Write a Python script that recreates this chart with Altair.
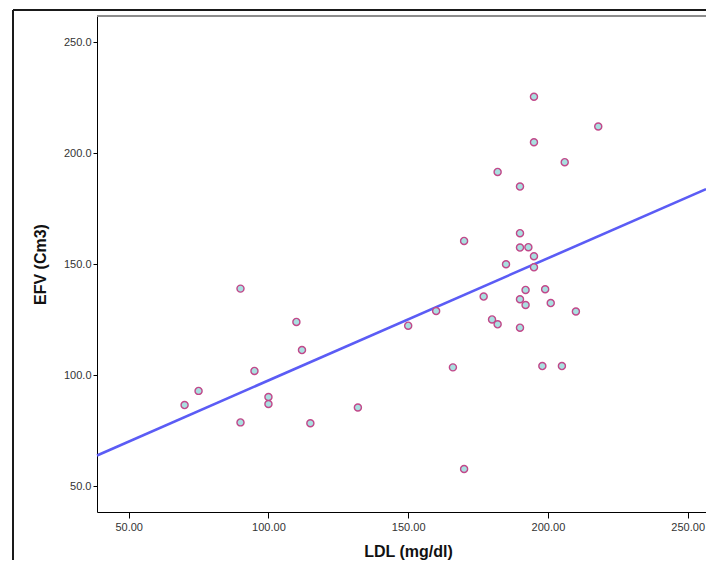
import altair as alt
import pandas as pd

# Data
ldl = [195, 218, 195, 206, 182, 190, 190, 170, 190, 193,
       195, 195, 185, 192, 199, 177, 190, 192, 201, 210,
       160, 180, 182, 150, 190, 110, 112, 90, 95, 75,
       70, 100, 100, 90, 115, 132, 166, 198, 205, 170]
efv = [225.5, 212.1, 205.0, 196.0, 191.6, 185.0, 164.0, 160.5, 157.5, 157.7,
       153.6, 148.6, 150.0, 138.4, 138.7, 135.4, 134.2, 131.6, 132.5, 128.7,
       128.9, 125.1, 122.9, 122.3, 121.4, 124.0, 111.3, 139.0, 101.9, 92.9,
       86.5, 90.1, 87.0, 78.7, 78.3, 85.4, 103.5, 104.1, 104.1, 57.7]

x_ticks = [50, 100, 150, 200, 250]
y_ticks = [50, 100, 150, 200, 250]
x_domain = [38.66, 256.55]
y_domain = [38.3, 261.9]

df = pd.DataFrame({"LDL": ldl, "EFV": efv})

W, H = 609, 496
FONT = "Liberation Sans"

xs = alt.Scale(domain=x_domain, nice=False, zero=False)
ys = alt.Scale(domain=y_domain, nice=False, zero=False)

x_axis = alt.Axis(
    title="LDL (mg/dl)", values=x_ticks, format=".2f", grid=False,
    domainColor="#000000", domainWidth=1, tickColor="#000000", tickSize=6,
    labelFont=FONT, labelFontSize=11, labelColor="#333333", labelPadding=3,
    titleFont=FONT, titleFontSize=16, titleFontWeight="bold", titleColor="#111111",
    titleBaseline="middle", titleY=39, titleX=311,
)
y_axis = alt.Axis(
    title="EFV (Cm3)", values=y_ticks, format=".1f", grid=False,
    domainColor="#000000", domainWidth=1, tickColor="#000000", tickSize=4,
    labelFont=FONT, labelFontSize=11, labelColor="#333333", labelPadding=2,
    titleFont=FONT, titleFontSize=16, titleFontWeight="bold", titleColor="#111111",
    titleBaseline="middle", titleX=-57, titleY=248, titleAngle=270,
)

base = alt.Chart(df)

points = base.mark_point(
    shape="circle", filled=True, fill="#a9dfe0", stroke="#c2488a",
    strokeWidth=1.4, size=50, opacity=1,
).encode(
    x=alt.X("LDL:Q", scale=xs, axis=x_axis),
    y=alt.Y("EFV:Q", scale=ys, axis=y_axis),
)

fit = base.transform_regression(
    "LDL", "EFV", extent=x_domain
).mark_line(color="#5b5cf5", strokeWidth=2.6).encode(
    x=alt.X("LDL:Q", scale=xs),
    y=alt.Y("EFV:Q", scale=ys),
)

# plot-area top border (grey)
top_border = alt.Chart(pd.DataFrame({"a": [0]})).mark_rule(
    color="#8c8c8c", strokeWidth=2
).encode(x=alt.value(0), x2=alt.value(W), y=alt.value(0))

# outer chart frame (black, left and top)
frame_top = alt.Chart(pd.DataFrame({"a": [0]})).mark_rule(
    color="#1a1a1a", strokeWidth=2
).encode(x=alt.value(-84), x2=alt.value(W + 5), y=alt.value(-6))
frame_left = alt.Chart(pd.DataFrame({"a": [0]})).mark_rule(
    color="#1a1a1a", strokeWidth=2
).encode(x=alt.value(-84), y=alt.value(-6), y2=alt.value(H + 60))

chart = alt.layer(fit, points, top_border, frame_top, frame_left).properties(
    width=W, height=H,
    autosize=alt.AutoSizeParams(type="none"),
    padding={"left": 89, "top": 8, "right": 0, "bottom": 48},
    background="#ffffff",
).configure_view(stroke="transparent")

chart.save("out.html", embed_options={"renderer": "svg", "actions": False})
